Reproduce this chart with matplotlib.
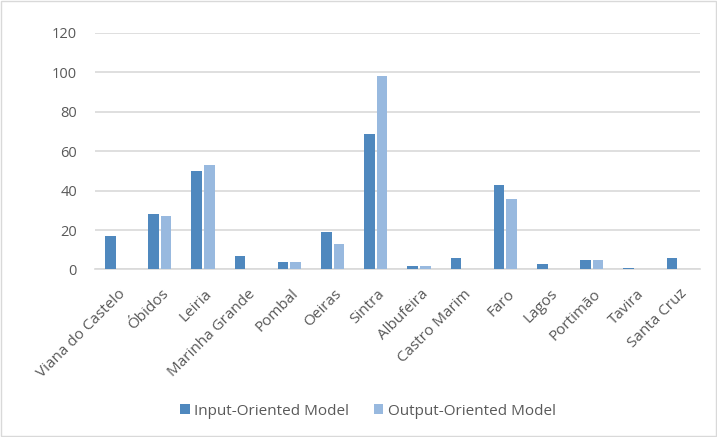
import matplotlib
matplotlib.use("Agg")
import matplotlib.pyplot as plt
import matplotlib.transforms as mtransforms
import numpy as np

municipalities = ["Viana do Castelo", "Óbidos", "Leiria", "Marinha Grande", "Pombal",
                  "Oeiras", "Sintra", "Albufeira", "Castro Marim", "Faro", "Lagos",
                  "Portimão", "Tavira", "Santa Cruz"]
input_oriented = [17, 28, 50, 7, 4, 19, 69, 2, 6, 43, 3, 5, 1, 6]
output_oriented = [0, 27, 53, 0, 4, 13, 98, 2, 0, 36, 0, 5, 0, 0]
y_ticks = [0, 20, 40, 60, 80, 100, 120]

plt.rcParams["font.family"] = ["Open Sans", "DejaVu Sans"]
text_color = "#595959"

fig = plt.figure(figsize=(7.17, 4.37), dpi=100)
ax = fig.add_axes([0.1325, 0.3833, 0.8435, 0.5412])

x = np.arange(len(municipalities))
w = 0.245
ax.bar(x - 0.145, input_oriented, width=w, color="#4F88BE", edgecolor="none",
       label="Input-Oriented Model", zorder=3)
ax.bar(x + 0.145, output_oriented, width=w, color="#98B9DF", edgecolor="none",
       label="Output-Oriented Model", zorder=3)

ax.set_xlim(-0.5, len(municipalities) - 0.5)
ax.set_ylim(0, 120)
ax.set_yticks(y_ticks)
ax.set_yticklabels([str(v) for v in y_ticks], fontsize=10.5, color=text_color)
ax.yaxis.grid(True, color="#D9D9D9", linewidth=1.2, zorder=0)
ax.tick_params(axis="y", length=0, pad=13)
ax.tick_params(axis="x", length=0, pad=12)

ax.set_xticks(x)
ax.set_xticklabels(municipalities, rotation=45, ha="right", va="center",
                   rotation_mode="anchor", fontsize=11, color=text_color)
shift = mtransforms.ScaledTranslation(5 / 72, -4 / 72, fig.dpi_scale_trans)
for lbl in ax.get_xticklabels():
    lbl.set_transform(lbl.get_transform() + shift)

for side in ["top", "right", "left"]:
    ax.spines[side].set_visible(False)
ax.spines["bottom"].set_color("#D9D9D9")
ax.spines["bottom"].set_linewidth(1.2)

fig.legend(loc="center", bbox_to_anchor=(0.513, 0.059), ncol=2, frameon=False,
           fontsize=11, labelcolor=text_color, handlelength=0.65, handleheight=0.65,
           handletextpad=0.3, columnspacing=1.6)

# thin border around the whole figure
fig.patches.append(plt.Rectangle((0.002, 0.002), 0.996, 0.996, transform=fig.transFigure,
                                 fill=False, edgecolor="#D9D9D9", linewidth=1))

fig.savefig("out.png", dpi=100)
